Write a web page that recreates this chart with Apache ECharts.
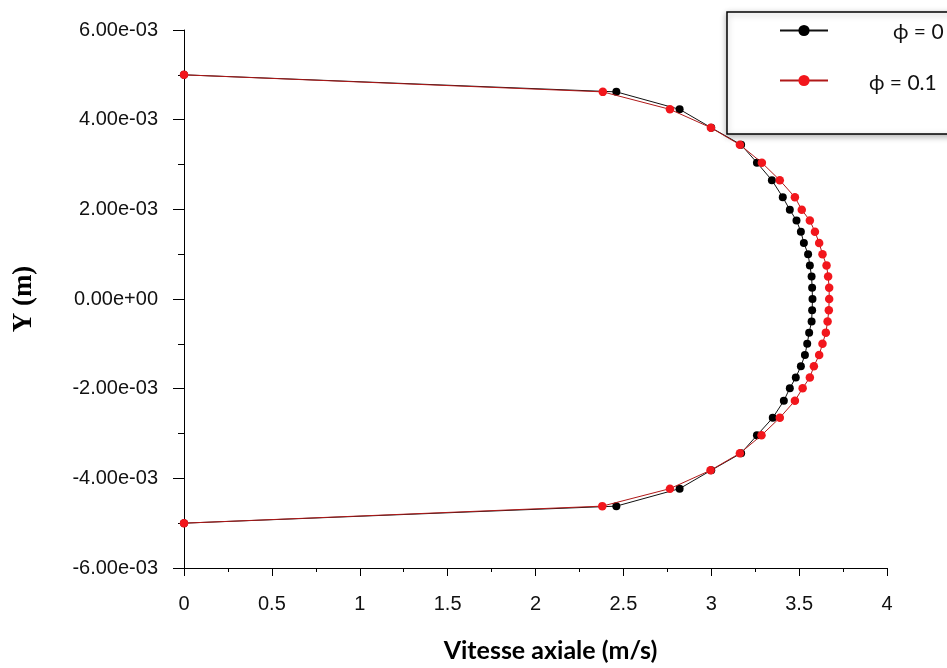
<!DOCTYPE html>
<html>
<head>
<meta charset="utf-8">
<script src="https://cdn.jsdelivr.net/npm/echarts@6/dist/echarts.min.js"></script>
<style>
html,body{margin:0;padding:0;background:#fff;}
#chart{width:947px;height:668px;}
</style>
</head>
<body>
<div id="chart"></div>
<script>
// Y positions (m), top to bottom
var yVals = [5.0e-3, 4.62e-3, 4.23e-3, 3.82e-3, 3.44e-3, 3.04e-3, 2.65e-3, 2.27e-3, 1.99e-3, 1.75e-3, 1.50e-3, 1.25e-3, 1.00e-3, 0.75e-3, 0.50e-3, 0.25e-3, 0,
             -0.25e-3, -0.50e-3, -0.75e-3, -1.00e-3, -1.25e-3, -1.50e-3, -1.75e-3, -1.99e-3, -2.27e-3, -2.65e-3, -3.04e-3, -3.44e-3, -3.82e-3, -4.23e-3, -4.62e-3, -5.0e-3];
// Axial velocity (m/s), phi = 0
var xPhi0 = [0, 2.46, 2.82, 3.00, 3.17, 3.26, 3.345, 3.407, 3.447, 3.485, 3.51, 3.527, 3.551, 3.561, 3.571, 3.574, 3.576,
             3.574, 3.571, 3.557, 3.546, 3.533, 3.51, 3.481, 3.447, 3.413, 3.35, 3.26, 3.17, 3.00, 2.82, 2.46, 0];
// Axial velocity (m/s), phi = 0.1
var xPhi01 = [0, 2.383, 2.765, 2.998, 3.163, 3.288, 3.39, 3.476, 3.515, 3.561, 3.59, 3.614, 3.633, 3.656, 3.665, 3.671, 3.671,
              3.669, 3.662, 3.652, 3.633, 3.614, 3.584, 3.561, 3.52, 3.476, 3.39, 3.286, 3.163, 2.996, 2.765, 2.38, 0];
var seriesNames = ['\u03D5 = 0', '\u03D5 = 0.1'];
var xTitle = 'Vitesse axiale (m/s)';
var yTitle = 'Y (m)';

function pairs(xs, ys) {
  var out = [];
  for (var i = 0; i < xs.length; i++) out.push([xs[i], ys[i]]);
  return out;
}
function expFmt(v) {
  if (Math.abs(v) < 1e-12) return '0.00e+00';
  var s = v.toExponential(2).split('e');
  var e = parseInt(s[1], 10);
  var a = Math.abs(e);
  return s[0] + 'e' + (e < 0 ? '-' : '+') + (a < 10 ? '0' : '') + a;
}

var chart = echarts.init(document.getElementById('chart'), null, {renderer: 'canvas'});
var tickFont = {fontFamily: '"Liberation Sans", Arial, sans-serif', fontSize: 20, color: '#111'};
var legFont = 'Lato, "Open Sans", sans-serif';

chart.setOption({
  animation: false,
  backgroundColor: '#fff',
  grid: {left: 184, right: 60, top: 30, bottom: 99, containLabel: false},
  legend: {
    orient: 'vertical',
    left: 727,
    top: 12,
    padding: [10, 40, 40, 52],
    itemGap: 30,
    itemWidth: 48,
    itemHeight: 14,
    backgroundColor: '#fff',
    borderColor: '#000',
    borderWidth: 1.5,
    borderRadius: 0,
    shadowBlur: 6,
    shadowColor: 'rgba(0,0,0,0.3)',
    shadowOffsetX: 0,
    shadowOffsetY: 2,
    data: seriesNames,
    formatter: function (n) { return n === seriesNames[0] ? '{a|' + n + '}' : '{b|' + n + '}'; },
    textStyle: {
      fontFamily: legFont, fontSize: 21, color: '#111',
      rich: {
        a: {fontFamily: legFont, fontSize: 21, color: '#111', padding: [4, 0, 0, 60]},
        b: {fontFamily: legFont, fontSize: 21, color: '#111', padding: [6, 0, 0, 36]}
      }
    }
  },
  xAxis: {
    type: 'value',
    min: 0, max: 4, interval: 0.5,
    name: xTitle,
    nameLocation: 'middle',
    nameGap: 70,
    nameTextStyle: {fontFamily: legFont, fontWeight: 'bold', fontSize: 25, color: '#000', padding: [0, 0, 0, 30]},
    axisLine: {show: true, onZero: false, lineStyle: {color: '#000', width: 1}},
    axisTick: {show: true, inside: false, length: 8, lineStyle: {color: '#000'}},
    minorTick: {show: true, splitNumber: 2, length: 4, lineStyle: {color: '#000'}},
    splitLine: {show: false},
    axisLabel: Object.assign({margin: 26, formatter: function (v) { return String(v); }}, tickFont)
  },
  yAxis: {
    type: 'value',
    min: -0.006, max: 0.006, interval: 0.002,
    name: yTitle,
    nameLocation: 'middle',
    nameGap: 146,
    nameRotate: 90,
    nameTextStyle: {fontFamily: '"Liberation Serif", "Times New Roman", serif', fontWeight: 'bold', fontSize: 27, color: '#000'},
    axisLine: {show: true, onZero: false, lineStyle: {color: '#000', width: 1}},
    axisTick: {show: true, inside: false, length: 11, lineStyle: {color: '#000'}},
    minorTick: {show: true, splitNumber: 2, length: 6, lineStyle: {color: '#000'}},
    splitLine: {show: false},
    axisLabel: Object.assign({margin: 26, formatter: expFmt}, tickFont)
  },
  series: [
    {
      name: seriesNames[0],
      type: 'line',
      data: pairs(xPhi0, yVals),
      symbol: 'circle',
      symbolSize: 8,
      showSymbol: true,
      lineStyle: {color: '#111', width: 1},
      itemStyle: {color: '#000'},
      z: 2
    },
    {
      name: seriesNames[1],
      type: 'line',
      data: pairs(xPhi01, yVals),
      symbol: 'circle',
      symbolSize: 8.5,
      showSymbol: true,
      lineStyle: {color: '#b01818', width: 1},
      itemStyle: {color: '#f2161c'},
      z: 3
    }
  ]
});
</script>
</body>
</html>
